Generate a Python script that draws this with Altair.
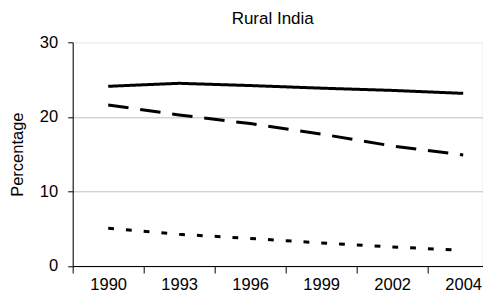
import altair as alt
import pandas as pd

years = ["1990", "1993", "1996", "1999", "2002", "2004"]
series_a = [24.1, 24.5, 24.2, 23.85, 23.55, 23.15]   # solid line
series_b = [21.6, 20.25, 19.1, 17.7, 16.1, 14.9]     # dashed line
series_c = [5.05, 4.25, 3.7, 3.1, 2.55, 2.1]         # dotted line
series_names = ["Series A", "Series B", "Series C"]
y_ticks = [0, 10, 20, 30]

rows = []
for name, vals in zip(series_names, [series_a, series_b, series_c]):
    for yr, v in zip(years, vals):
        rows.append({"year": yr, "value": v, "series": name})
df = pd.DataFrame(rows)

FONT = "Liberation Sans"

chart = alt.Chart(df).mark_line(color="black", strokeWidth=3, strokeCap="butt").encode(
    x=alt.X(
        "year:N",
        sort=years,
        scale=alt.Scale(type="band", range=[0, 426], paddingInner=0, paddingOuter=0),
        axis=alt.Axis(
            title=None, tickBand="extent", labelAngle=0, tickSize=7, labelPadding=4,
            labelFontSize=16.5, labelFont=FONT, labelColor="black",
            domainColor="black", tickColor="black", grid=False,
        ),
    ),
    y=alt.Y(
        "value:Q",
        scale=alt.Scale(domain=[0, 30], nice=False),
        axis=alt.Axis(
            values=y_ticks, title="Percentage", titleFont=FONT, titleFontSize=16.5,
            titleFontWeight="normal", titleColor="black", titleX=-54.7, titleY=111.85,
            titleBaseline="middle", titleAngle=-90,
            labelFontSize=16.5, labelFont=FONT, labelColor="black", labelPadding=10,
            tickSize=5, tickColor="black", domainColor="black",
            grid=True,
            gridColor={"condition": {"test": "datum.value == 30", "value": "#f2f2f2"}, "value": "#c0c0c0"},
        ),
    ),
    strokeDash=alt.StrokeDash(
        "series:N",
        scale=alt.Scale(domain=series_names, range=[[1, 0], [20.5, 11.8], [5.8, 12]]),
        legend=None,
    ),
    detail="series:N",
).properties(
    width=410,
    height=223.7,
    title=alt.TitleParams(
        "Rural India", font=FONT, fontSize=17, fontWeight="normal", color="black",
        anchor="middle", frame="group", dx=-5, offset=6,
    ),
    autosize=alt.AutoSizeParams(type="none"),
    padding={"left": 64.7, "top": 34.3, "right": 0, "bottom": 28},
).configure_view(stroke=None).configure(background="white")

chart.save("out.html", embed_options={"renderer": "svg", "actions": False})
